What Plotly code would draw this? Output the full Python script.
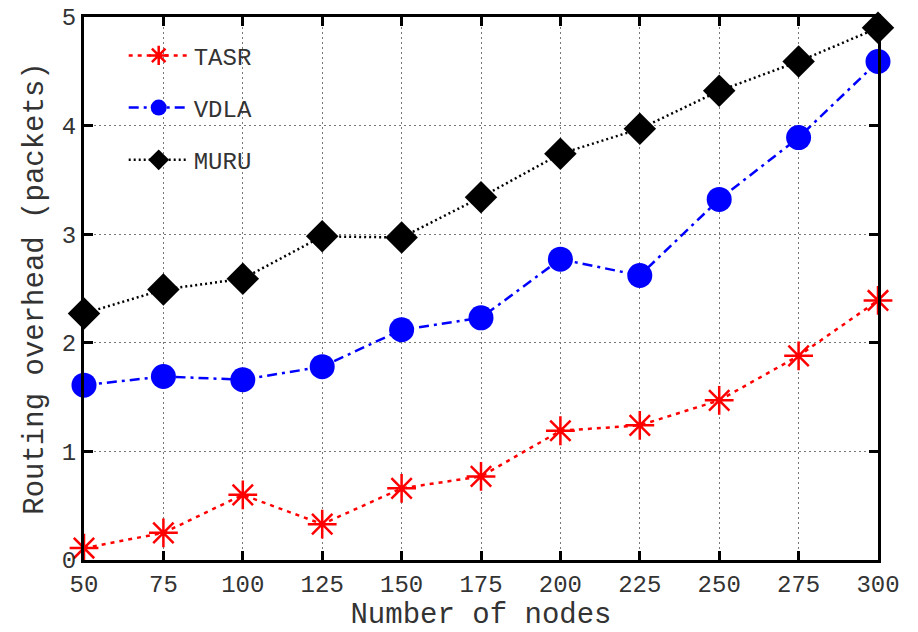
import plotly.graph_objects as go

nodes = [50, 75, 100, 125, 150, 175, 200, 225, 250, 275, 300]
tasr = [0.11, 0.25, 0.60, 0.33, 0.66, 0.77, 1.19, 1.24, 1.47, 1.88, 2.39]
vdla = [1.61, 1.69, 1.66, 1.78, 2.12, 2.23, 2.77, 2.62, 3.32, 3.89, 4.59]
muru = [2.27, 2.49, 2.59, 2.98, 2.97, 3.34, 3.74, 3.97, 4.32, 4.59, 4.90]
x_ticks = [50, 75, 100, 125, 150, 175, 200, 225, 250, 275, 300]
y_ticks = [0, 1, 2, 3, 4, 5]

fig = go.Figure()
fig.add_trace(go.Scatter(
    x=nodes, y=tasr, name="TASR", mode="lines+markers", legendgroup="a",
    line=dict(color="#ff0000", width=2.5, dash="4px,5px"),
    marker=dict(symbol="asterisk-open", size=24, color="#ff0000",
                line=dict(color="#ff0000", width=2.5)),
    cliponaxis=False))
fig.add_trace(go.Scatter(
    x=nodes, y=vdla, name="VDLA", mode="lines+markers", legendgroup="b",
    line=dict(color="#0000ff", width=2.5, dash="10px,5px,3px,5px"),
    marker=dict(symbol="circle", size=25, color="#0000ff"),
    cliponaxis=False))
fig.add_trace(go.Scatter(
    x=nodes, y=muru, name="MURU", mode="lines+markers", legendgroup="c",
    line=dict(color="#000000", width=2.5, dash="2px,3px"),
    marker=dict(symbol="diamond", size=25, color="#000000"),
    cliponaxis=False))

axis_common = dict(
    showline=True, linecolor="black", linewidth=3, mirror="ticks",
    ticks="inside", ticklen=9, tickwidth=3, tickcolor="black",
    showgrid=True, gridcolor="#777777", gridwidth=1, griddash="2px,3px",
    zeroline=False, automargin=False,
    tickfont=dict(family="Liberation Mono", size=24, color="#333333"),
    title_font=dict(family="Liberation Mono", size=29, color="#333333"),
)

fig.update_xaxes(range=[50, 300], tickvals=x_ticks, title_text="Number of nodes",
                 title_standoff=7, **axis_common)
fig.update_yaxes(range=[0, 5], tickvals=y_ticks, title_text="Routing overhead (packets)",
                 title_standoff=10, **axis_common)

fig.update_layout(
    width=918, height=632,
    margin=dict(l=84, r=40, t=17, b=72),
    plot_bgcolor="white", paper_bgcolor="white",
    showlegend=True,
    legend=dict(x=0.05, y=0.97, xanchor="left", yanchor="top",
                bgcolor="rgba(255,255,255,0)",
                font=dict(family="Liberation Mono", size=24, color="#333333"),
                itemwidth=60, tracegroupgap=18, traceorder="grouped"),
)

fig.write_html("out.html")
